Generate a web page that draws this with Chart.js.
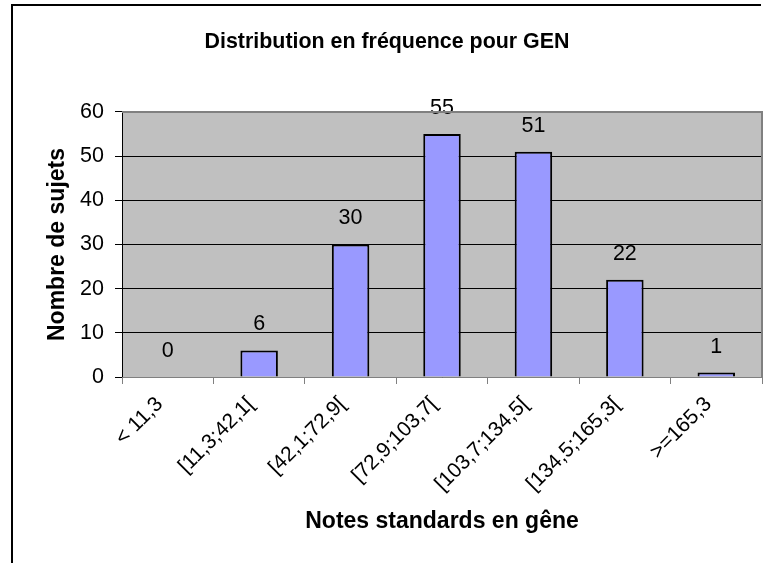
<!DOCTYPE html>
<html>
<head>
<meta charset="utf-8">
<script src="https://cdn.jsdelivr.net/npm/chart.js@4"></script>
<style>
  html, body { margin: 0; padding: 0; background: #fff; }
  #wrap { width: 770px; height: 563px; position: relative; }
</style>
</head>
<body>
<div id="wrap"><canvas id="c" width="770" height="563"></canvas></div>
<script>
const categories = ["< 11,3", "[11,3;42,1[", "[42,1;72,9[", "[72,9;103,7[", "[103,7;134,5[", "[134,5;165,3[", ">=165,3"];
const counts = [0, 6, 30, 55, 51, 22, 1];
const yTicks = [0, 10, 20, 30, 40, 50, 60];

const FONT = "'Liberation Sans', Arial, sans-serif";

const framePlugin = {
  id: 'frame',
  beforeDraw(chart) {
    const ctx = chart.ctx;
    const a = chart.chartArea;
    ctx.save();
    ctx.strokeStyle = '#000';
    ctx.lineWidth = 2;
    ctx.beginPath();
    ctx.moveTo(12, 563);
    ctx.lineTo(12, 5);
    ctx.lineTo(761, 5);
    ctx.stroke();
    ctx.fillStyle = '#C0C0C0';
    ctx.fillRect(a.left, a.top, a.right - a.left, a.bottom - a.top);
    ctx.restore();
  },
  afterDraw(chart) {
    const ctx = chart.ctx;
    const a = chart.chartArea;
    ctx.save();
    ctx.strokeStyle = '#808080';
    ctx.lineWidth = 2;
    ctx.beginPath();
    ctx.moveTo(a.left, a.top);
    ctx.lineTo(a.right, a.top);
    ctx.lineTo(a.right, a.bottom);
    ctx.stroke();
    ctx.restore();
  }
};

const labelPlugin = {
  id: 'barLabels',
  afterDatasetsDraw(chart) {
    const ctx = chart.ctx;
    const meta = chart.getDatasetMeta(0);
    ctx.save();
    ctx.font = "21.5px " + FONT;
    ctx.fillStyle = '#000';
    ctx.textAlign = 'center';
    ctx.textBaseline = 'middle';
    meta.data.forEach((bar, i) => {
      ctx.fillText(String(counts[i]), bar.x, bar.y - 26);
    });
    ctx.restore();
  }
};

new Chart(document.getElementById('c'), {
  type: 'bar',
  data: {
    labels: categories,
    datasets: [{
      data: counts,
      backgroundColor: '#9999FF',
      borderColor: '#000',
      borderWidth: 2,
      barPercentage: 0.41,
      categoryPercentage: 1.0
    }]
  },
  options: {
    responsive: false,
    animation: false,
    layout: { padding: { left: 12, right: 8, top: 0, bottom: 0 } },
    plugins: {
      legend: { display: false },
      tooltip: { enabled: false },
      title: {
        display: true,
        text: 'Distribution en fréquence pour GEN',
        color: '#000',
        font: { family: FONT, size: 21.4, weight: 'bold' },
        padding: { top: 29, bottom: 57.3 }
      }
    },
    scales: {
      y: {
        min: 0, max: 60,
        afterFit(s) { s.width = 110; },
        afterBuildTicks(s) { s.ticks = yTicks.map(v => ({ value: v })); },
        ticks: { color: '#000', padding: 11, font: { family: FONT, size: 21.5 } },
        grid: { color: '#000', lineWidth: 1, tickLength: 7, drawTicks: true },
        border: { color: '#000', width: 1 },
        title: {
          display: true,
          text: 'Nombre de sujets',
          color: '#000',
          font: { family: FONT, size: 23, weight: 'bold' },
          padding: { top: 32, bottom: 0 }
        }
      },
      x: {
        afterFit(s) { s.height = 186; },
        ticks: {
          color: '#000',
          autoSkip: false,
          minRotation: 45,
          maxRotation: 45,
          padding: 8,
          labelOffset: -8,
          font: { family: FONT, size: 21 }
        },
        grid: { offset: true, drawOnChartArea: false, drawTicks: true, tickLength: 7, color: '#808080' },
        border: { color: '#808080', width: 1 },
        title: {
          display: true,
          text: 'Notes standards en gêne',
          color: '#000',
          font: { family: FONT, size: 23, weight: 'bold' },
          padding: { top: 0, bottom: 28 }
        }
      }
    }
  },
  plugins: [framePlugin, labelPlugin]
});
</script>
</body>
</html>
